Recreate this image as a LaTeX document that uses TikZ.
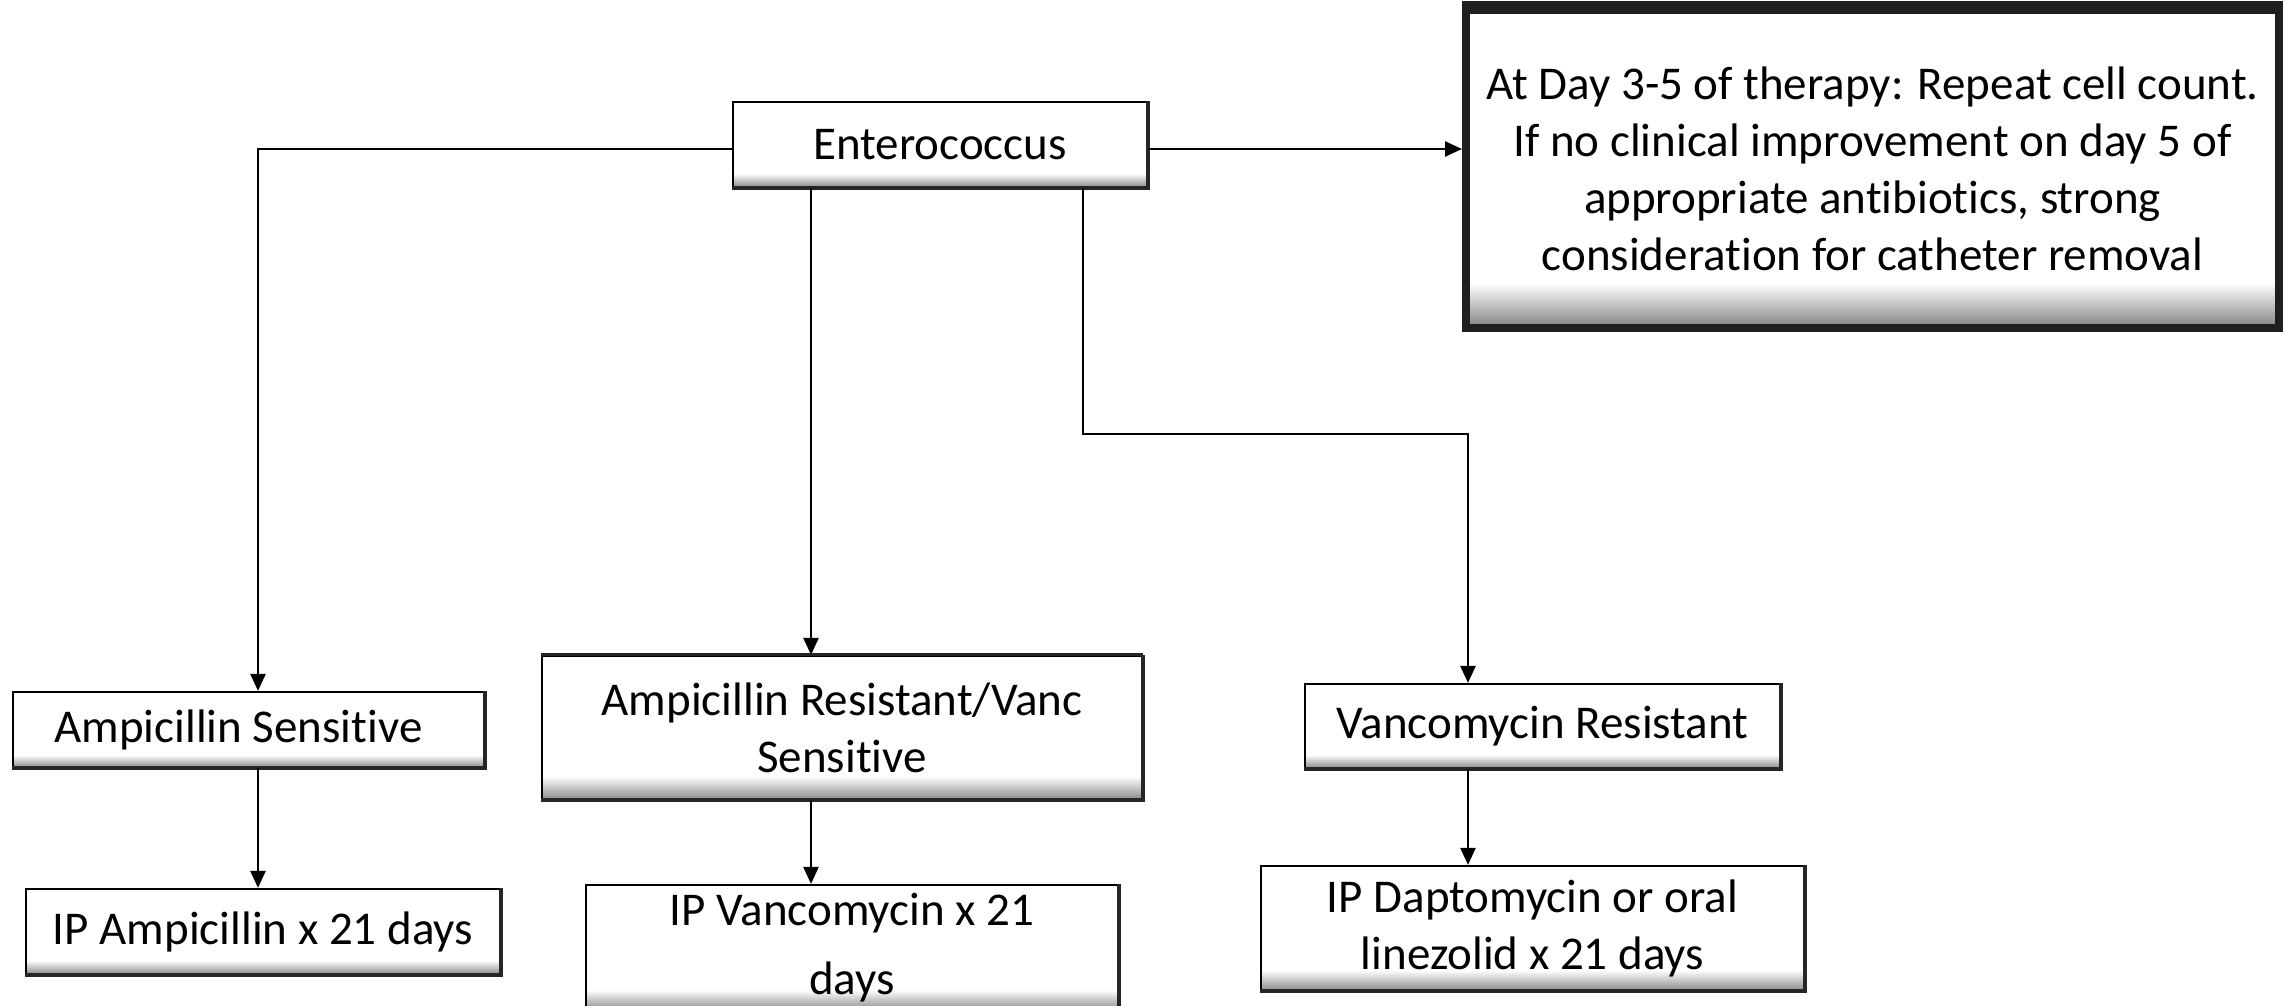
\documentclass[tikz,border=0pt]{standalone}
\usepackage{fontspec}
\setmainfont{Carlito}[Ligatures=NoCommon]
\usetikzlibrary{arrows.meta,calc}
\pgfdeclareverticalshading{boxbevel}{100bp}{color(0bp)=(gray!90); color(25bp)=(gray!90); color(33bp)=(white); color(100bp)=(white)}
\pgfdeclareverticalshading{daybevel}{100bp}{color(0bp)=(gray); color(25bp)=(gray); color(32bp)=(white); color(100bp)=(white)}
\tikzset{
  flowbox/.style={rectangle, draw=black, line width=2.2pt, shading=boxbevel,
    align=center, inner sep=0pt, font=\fontsize{47}{57}\selectfont},
  edgeshadow/.style={draw=black!85, line width=4pt},
  conn/.style={draw=black, line width=2.4pt, -{Triangle[length=17pt,width=15pt]}}
}
\begin{document}
\begin{tikzpicture}[x=1pt,y=-1pt]
\useasboundingbox (0,0) rectangle (2286,1005);
\fill[white] (0,0) rectangle (2286,1005);

% boxes
\node[flowbox, minimum width=414pt, minimum height=85pt] (ent) at (940,144.5) {Enterococcus};
\node[flowbox, shading=daybevel, minimum width=813pt, minimum height=318pt, line width=8pt, draw=black!88] (day) at (1872.5,169)
  {At Day 3-5 of therapy: Repeat cell count.\\If no clinical improvement on day 5 of\\appropriate antibiotics, strong\\consideration for catheter removal};
\node[flowbox, minimum width=471pt, minimum height=75pt] (as) at (248.5,729.5) {Ampicillin Sensitive\hspace*{20pt}};
\node[flowbox, minimum width=474pt, minimum height=85pt] (ia) at (263,931.5) {IP Ampicillin x 21 days};
\node[flowbox, minimum width=600pt, minimum height=143pt] (arb) at (842,727.5) {Ampicillin Resistant/Vanc\\Sensitive};
\node[flowbox, minimum width=532pt, minimum height=125pt, font=\fontsize{47}{69}\selectfont] (iv) at (852,947.5) {IP Vancomycin x 21\\days};
\node[flowbox, minimum width=475pt, minimum height=84pt] (vr) at (1542.5,726) {Vancomycin Resistant};
\node[flowbox, minimum width=543pt, minimum height=124pt] (dap) at (1532.5,928) {IP Daptomycin or oral\\linezolid x 21 days};

% darker bottom/right edges
\foreach \b in {ent,as,ia,arb,iv,vr,dap}{
  \draw[edgeshadow] (\b.south west) -- (\b.south east) -- (\b.north east);
}
\draw[edgeshadow, line width=3pt] (arb.north west) -- (arb.north east);
\draw[black!88, line width=10pt] (day.north west) -- (day.north east);

% connector columns and rows
\coordinate (colA) at (258,0);
\coordinate (colM) at (811,0);
\coordinate (colR) at (1083,0);
\coordinate (colV) at (1468,0);
\coordinate (row1) at (0,149);
\coordinate (row2) at (0,434);

% connectors
\draw[conn] (ent.west |- row1) -- (colA |- row1) -- (as.north -| colA);
\draw[conn] (ent.east |- row1) -- (day.west |- row1);
\draw[conn] (ent.south -| colM) -- (arb.north -| colM);
\draw[conn] (ent.south -| colR) -- (colR |- row2) -- (colV |- row2) -- (vr.north -| colV);
\draw[conn] (as.south -| colA) -- (ia.north -| colA);
\draw[conn] (arb.south -| colM) -- (iv.north -| colM);
\draw[conn] (vr.south -| colV) -- (dap.north -| colV);
\end{tikzpicture}
\end{document}
